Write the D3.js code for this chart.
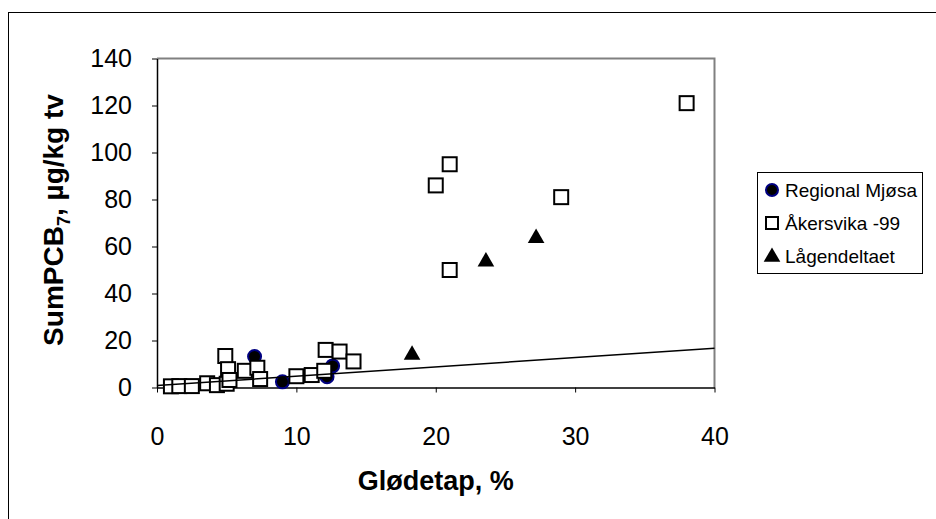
<!DOCTYPE html>
<html>
<head>
<meta charset="utf-8">
<script src="https://cdn.jsdelivr.net/npm/d3@7"></script>
<style>
  body { margin: 0; background: #fff; }
  text { font-family: "Liberation Sans", Arial, sans-serif; }
</style>
</head>
<body>
<div class="grafico"></div>
<script>
// data
var mjosa = [[7.0, 13.2], [9.0, 2.4], [12.2, 4.6], [12.6, 9.2]];
var akersvika = [[1.0, 0.5], [1.6, 0.6], [2.5, 0.6], [3.6, 1.8], [4.3, 1.0], [5.0, 1.6],
  [4.9, 13.4], [5.1, 7.8], [5.2, 3.2], [6.3, 7.1], [7.2, 8.4], [7.4, 3.6],
  [10.0, 4.8], [11.1, 5.3], [12.0, 7.1], [12.1, 16.0], [13.1, 15.3], [14.1, 11.1],
  [20.0, 86], [21.0, 95], [21.0, 50], [29.0, 81], [38.0, 121]];
var lagen = [[18.3, 14.3], [23.6, 54], [27.2, 64]];
var trend = [[0, 0.8], [40, 16.7]];
var xTicks = [0, 10, 20, 30, 40];
var yTicks = [0, 20, 40, 60, 80, 100, 120, 140];
var legendNames = ["Regional Mjøsa", "Åkersvika -99", "Lågendeltaet"];

var W = 936, H = 519,
  margin = {top: 58.5, left: 157, right: 221.5, bottom: 131.5};
var width = W - margin.left - margin.right,
  height = H - margin.top - margin.bottom;

var svg = d3.select(".grafico").append("svg")
  .attr("width", W).attr("height", H);

// outer chart frame
svg.append("rect")
  .attr("x", 8.5).attr("y", 12.5)
  .attr("width", 1000).attr("height", 1000)
  .attr("fill", "none").attr("stroke", "#000").attr("stroke-width", 1);

var g = svg.append("g")
  .attr("transform", "translate(" + margin.left + "," + margin.top + ")");

var x = d3.scaleLinear().domain([0, 40]).range([0, width]),
  y = d3.scaleLinear().domain([0, 140]).range([height, 0]);

// plot area border (top and right gray)
g.append("path")
  .attr("d", "M0,0H" + width + "V" + height)
  .attr("fill", "none").attr("stroke", "#808080").attr("stroke-width", 2);

var xAxis = g.append("g")
  .attr("transform", "translate(0," + height + ")")
  .call(d3.axisBottom(x).tickValues(xTicks).tickSize(5).tickSizeOuter(0).tickPadding(35));
var yAxis = g.append("g")
  .call(d3.axisLeft(y).tickValues(yTicks).tickSize(5).tickSizeOuter(0).tickPadding(20));

[xAxis, yAxis].forEach(a => {
  a.select(".domain").attr("stroke", "#000").attr("stroke-width", 1.5);
  a.selectAll(".tick line").attr("stroke", "#000");
  a.selectAll(".tick text")
    .attr("font-family", "Liberation Sans, Arial, sans-serif")
    .attr("font-size", 25).attr("fill", "#000");
});

// axis titles
svg.append("text")
  .attr("x", margin.left + width / 2).attr("y", 490)
  .attr("text-anchor", "middle")
  .attr("font-size", 27).attr("font-weight", "bold")
  .text("Glødetap, %");

var yt = svg.append("text")
  .attr("transform", "translate(63," + (margin.top + height / 2 - 3) + ") rotate(-90)")
  .attr("text-anchor", "middle")
  .attr("font-size", 28).attr("font-weight", "bold");
yt.append("tspan").text("SumPCB");
yt.append("tspan").attr("font-size", 18).attr("dy", 7).text("7");
yt.append("tspan").attr("dy", -7).text(", µg/kg tv");

// markers
var sq = 14;
var tri = d3.symbol().type(d3.symbolTriangle).size(120);

g.selectAll(".mj").data(mjosa).enter().append("circle")
  .attr("class", "mj")
  .attr("cx", d => x(d[0])).attr("cy", d => y(d[1])).attr("r", 6.5)
  .attr("fill", "#000").attr("stroke", "#000080").attr("stroke-width", 2);

g.selectAll(".ak").data(akersvika).enter().append("rect")
  .attr("class", "ak")
  .attr("x", d => x(d[0]) - sq / 2).attr("y", d => y(d[1]) - sq / 2)
  .attr("width", sq).attr("height", sq)
  .attr("fill", "#fff").attr("stroke", "#000").attr("stroke-width", 2);

g.selectAll(".lg").data(lagen).enter().append("path")
  .attr("class", "lg")
  .attr("d", tri)
  .attr("transform", d => "translate(" + x(d[0]) + "," + (y(d[1]) + 1) + ")")
  .attr("fill", "#000");

// trendline
g.append("path")
  .datum(trend)
  .attr("d", d3.line().x(d => x(d[0])).y(d => y(d[1])))
  .attr("fill", "none").attr("stroke", "#000").attr("stroke-width", 1.5);

// legend
var lg = svg.append("g").attr("transform", "translate(757,172)");
lg.append("rect").attr("x", 0.5).attr("y", 0.5).attr("width", 165).attr("height", 101)
  .attr("fill", "#fff").attr("stroke", "#000").attr("stroke-width", 1);
legendNames.forEach((name, i) => {
  var cy = 18 + i * 33;
  if (i === 0) {
    lg.append("circle").attr("cx", 15).attr("cy", cy).attr("r", 6)
      .attr("fill", "#000").attr("stroke", "#000080").attr("stroke-width", 2);
  } else if (i === 1) {
    lg.append("rect").attr("x", 9).attr("y", cy - 6).attr("width", 12).attr("height", 12)
      .attr("fill", "#fff").attr("stroke", "#000").attr("stroke-width", 2);
  } else {
    lg.append("path").attr("d", tri).attr("transform", "translate(15," + (cy + 1) + ")")
      .attr("fill", "#000");
  }
  lg.append("text").attr("x", 28).attr("y", cy + 7)
    .attr("font-size", 19).text(name);
});
</script>
</body>
</html>
